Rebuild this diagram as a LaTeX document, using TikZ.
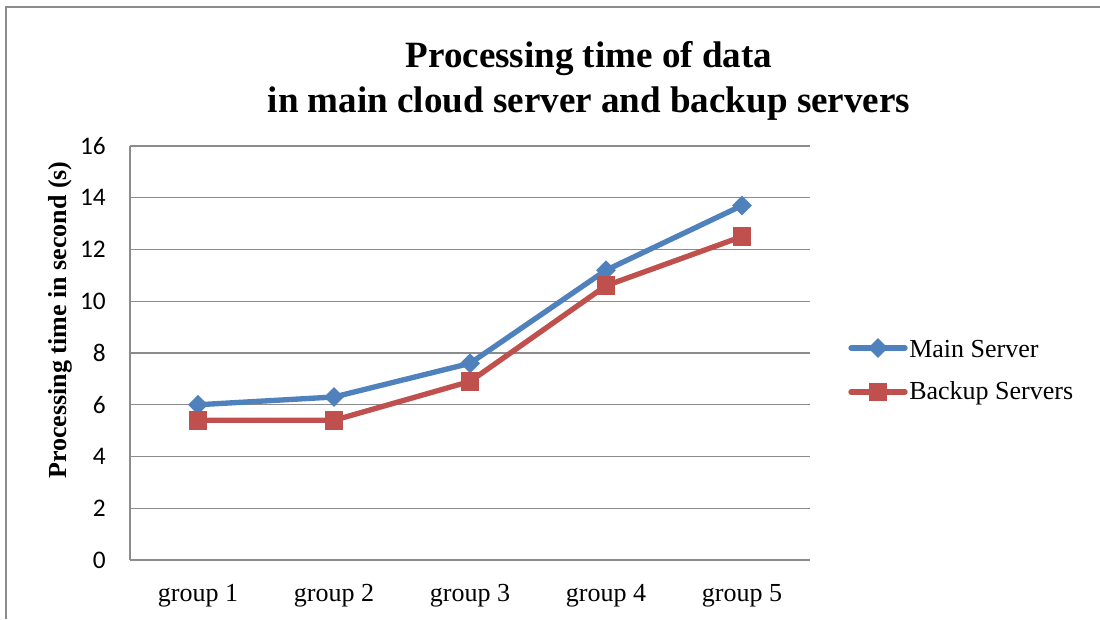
\documentclass[tikz,border=0pt]{standalone}
\usepackage{fontspec}
\setmainfont{Liberation Serif}
\newfontfamily\numfont{Carlito}
\usetikzlibrary{shapes.geometric}
\definecolor{mainblue}{HTML}{4F81BD}
\definecolor{backred}{HTML}{C0504D}
\definecolor{gridgray}{HTML}{8C8C8C}
\tikzset{
  gridline/.style={draw=gridgray, line width=1pt},
  frameline/.style={draw=gridgray, line width=1.3pt},
  mainline/.style={draw=mainblue, line width=4pt, line join=round},
  backline/.style={draw=backred, line width=4pt, line join=round},
  mainmark/.style={diamond, fill=mainblue, inner sep=0pt, minimum width=15pt, minimum height=15pt},
  backmark/.style={rectangle, fill=backred, inner sep=0pt, minimum size=14pt},
  ticklabel/.style={font=\numfont\fontsize{19pt}{22pt}\selectfont, anchor=east, inner sep=0pt},
  catlabel/.style={font=\fontsize{19.5pt}{23pt}\selectfont, anchor=center, inner sep=0pt},
  legendlabel/.style={font=\fontsize{19.5pt}{23pt}\selectfont, anchor=west, inner sep=0pt},
}
\begin{document}
\begin{tikzpicture}[x=0.75pt, y=-0.75pt]
\useasboundingbox (0,0) rectangle (1100,619);
\fill[white] (0,0) rectangle (1100,619);
% chart frame
\draw[frameline] (6,619) -- (6,7) -- (1100,7);

% title
\node[align=center, font=\bfseries\fontsize{27.8pt}{34pt}\selectfont, inner sep=0pt] (title) at (589,81)
  {Processing time of data\\in main cloud server and backup servers};

% horizontal gridlines and tick labels (0 .. 16, step 2)
\foreach \v in {0,2,...,16} {
  \pgfmathsetmacro{\yy}{560-25.875*\v}
  \draw[gridline] (130,\yy) -- (810,\yy);
  \node[ticklabel] (tick\v) at (106,\yy) {\v};
}
% vertical axis
\draw[gridline] (130,146) -- (130,560);

% axis title
\node[rotate=90, font=\bfseries\fontsize{19.5pt}{23pt}\selectfont, inner sep=0pt] (ytitle) at (60,320)
  {Processing time in second (s)};

% categories
\foreach \i in {1,...,5} {
  \pgfmathsetmacro{\xx}{130+136*(\i-0.5)}
  \node[catlabel] (cat\i) at (\xx,596) {group \i};
}

% data points
\coordinate (m1) at (198,{560-25.875*6.0});
\coordinate (m2) at (334,{560-25.875*6.3});
\coordinate (m3) at (470,{560-25.875*7.6});
\coordinate (m4) at (606,{560-25.875*11.2});
\coordinate (m5) at (742,{560-25.875*13.7});
\coordinate (b1) at (198,{560-25.875*5.4});
\coordinate (b2) at (334,{560-25.875*5.4});
\coordinate (b3) at (470,{560-25.875*6.9});
\coordinate (b4) at (606,{560-25.875*10.6});
\coordinate (b5) at (742,{560-25.875*12.5});

% series lines
\draw[mainline] (m1) -- (m2) -- (m3) -- (m4) -- (m5);
\draw[backline] (b1) -- (b2) -- (b3) -- (b4) -- (b5);

% series markers
\foreach \i in {1,...,5} {
  \node[mainmark] (mm\i) at (m\i) {};
  \node[backmark] (bm\i) at (b\i) {};
}

% legend
\coordinate (lma) at (851,348);
\coordinate (lmb) at (905,348);
\coordinate (lba) at (851,392);
\coordinate (lbb) at (905,392);
\draw[mainline, line cap=round] (lma) -- (lmb);
\node[mainmark] (lmm) at (878,348) {};
\node[legendlabel] (lmt) at (909,349) {Main Server};
\draw[backline, line cap=round] (lba) -- (lbb);
\node[backmark] (lbm) at (878,392) {};
\node[legendlabel] (lbt) at (909,393) {Backup Servers};
\end{tikzpicture}
\end{document}
